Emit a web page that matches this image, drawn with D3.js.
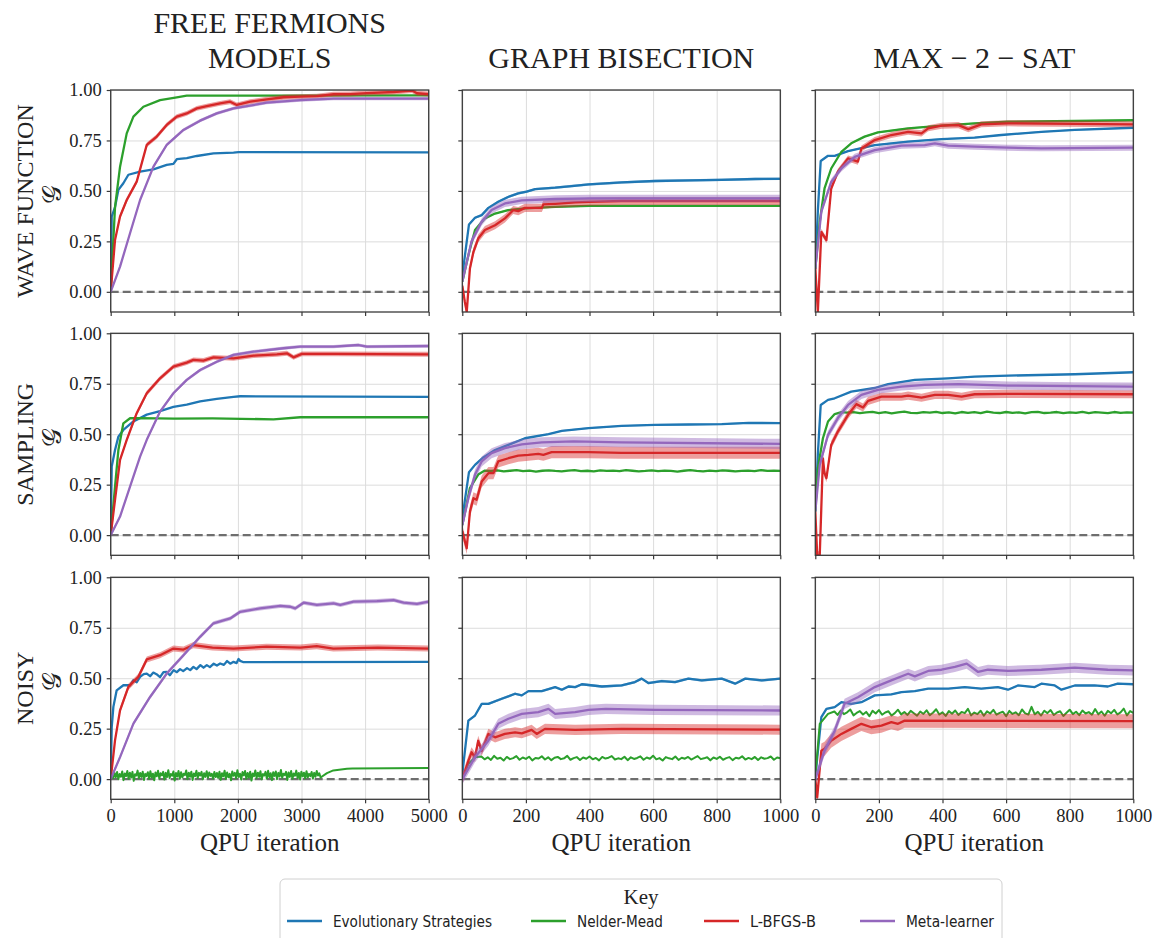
<!DOCTYPE html>
<html>
<head>
<meta charset="utf-8">
<script src="https://cdn.jsdelivr.net/npm/d3@7"></script>
<style>
body { margin: 0; background: #fff; }
svg text { font-family: "Liberation Serif", "DejaVu Serif", serif; fill: #222; }
</style>
</head>
<body>
<script>
// ---- labels ----
var colTitles = [["FREE FERMIONS", "MODELS"], ["GRAPH BISECTION"], ["MAX \u2212 2 \u2212 SAT"]];
var rowTitles = ["WAVE FUNCTION", "SAMPLING", "NOISY"];
var methods = ["Evolutionary Strategies", "Nelder-Mead", "L-BFGS-B", "Meta-learner"];
var colors = ["#1f77b4", "#2ca02c", "#d62728", "#9467bd"];
var xMax = [5000, 1000, 1000];
var xTicksFF = [0, 1000, 2000, 3000, 4000, 5000];
var xTicksQ = [0, 200, 400, 600, 800, 1000];
var yTicks = [0, 0.25, 0.5, 0.75, 1.0];

// ---- free fermions : wave function ----
var ffWaveES = [[0,0],[16,0.373],[68,0.42],[121,0.505],[199,0.538],[278,0.58],[462,0.596],[672,0.607],[881,0.629],[986,0.634],[1039,0.657],[1196,0.662],[1354,0.673],[1616,0.686],[1931,0.69],[2010,0.692],[5000,0.691]];
var ffWaveNM = [[0,0],[68,0.42],[147,0.62],[252,0.785],[357,0.868],[514,0.917],[776,0.95],[1039,0.964],[1196,0.972],[5000,0.973]];
var ffWaveLB = [[0,0],[68,0.257],[147,0.373],[252,0.455],[409,0.546],[567,0.728],[724,0.769],[881,0.827],[1039,0.868],[1196,0.884],[1354,0.909],[1511,0.92],[1721,0.934],[1878,0.942],[1983,0.926],[2193,0.942],[2455,0.954],[2718,0.964],[2980,0.967],[3242,0.97],[3504,0.979],[3766,0.98],[4029,0.985],[4449,0.99],[4738,0.997],[4816,0.984],[5000,0.98]];
var ffWaveML = [[0,0],[147,0.125],[304,0.29],[462,0.455],[672,0.62],[881,0.728],[1144,0.802],[1406,0.848],[1668,0.884],[1931,0.909],[2455,0.937],[2980,0.95],[3504,0.957],[5000,0.957]];
var ffWaveBand = [0, 0, 0.012, 0.008];

// ---- graph bisection : wave function ----
var gbWaveES = [[0,0.08],[21,0.334],[40,0.367],[61,0.38],[82,0.416],[113,0.446],[144,0.47],[176,0.488],[202,0.496],[229,0.509],[292,0.516],[344,0.524],[397,0.532],[501,0.542],[606,0.549],[711,0.552],[816,0.555],[921,0.559],[1000,0.56]];
var gbWaveNM = [[0,0.05],[19,0.18],[40,0.306],[71,0.364],[103,0.388],[144,0.405],[197,0.413],[292,0.421],[400,0.426],[1000,0.426]];
var gbWaveLB = [[0,0.03],[8,-0.05],[14,-0.1],[24,0.116],[35,0.198],[50,0.264],[71,0.306],[103,0.33],[134,0.364],[160,0.405],[176,0.4],[197,0.416],[250,0.416],[255,0.433],[292,0.436],[355,0.443],[397,0.446],[500,0.45],[1000,0.45]];
var gbWaveML = [[0,0.05],[29,0.25],[61,0.347],[92,0.405],[134,0.438],[187,0.453],[292,0.46],[400,0.463],[1000,0.463]];
var gbWaveBand = [0.006, 0.004, 0.02, 0.018];

// ---- max-2-sat : wave function ----
var msWaveES = [[0,0.115],[8,0.4],[17,0.648],[40,0.674],[61,0.674],[103,0.697],[187,0.727],[292,0.744],[397,0.757],[501,0.764],[585,0.777],[711,0.793],[816,0.802],[1000,0.813]];
var msWaveNM = [[0,0.115],[14,0.347],[29,0.512],[50,0.611],[82,0.694],[113,0.736],[155,0.769],[197,0.79],[292,0.81],[397,0.823],[501,0.835],[606,0.843],[1000,0.85]];
var msWaveLB = [[0,0.12],[8,-0.1],[19,0.297],[35,0.256],[50,0.512],[71,0.595],[103,0.661],[134,0.645],[145,0.71],[187,0.752],[239,0.777],[292,0.793],[334,0.785],[355,0.81],[397,0.823],[450,0.826],[481,0.806],[522,0.83],[606,0.835],[1000,0.83]];
var msWaveML = [[0,0.115],[19,0.397],[50,0.545],[82,0.611],[124,0.669],[187,0.702],[271,0.724],[344,0.727],[376,0.736],[418,0.724],[501,0.719],[606,0.714],[711,0.711],[1000,0.714]];
var msWaveBand = [0.004, 0.004, 0.015, 0.015];

// ---- free fermions : sampling ----
var ffSampES = [[0,0],[16,0.34],[68,0.422],[121,0.488],[199,0.521],[357,0.563],[567,0.597],[776,0.614],[986,0.635],[1196,0.647],[1406,0.663],[1668,0.675],[1931,0.685],[2036,0.688],[5000,0.685]];
var ffSampNM = [[0,0],[68,0.24],[121,0.422],[199,0.554],[304,0.579],[462,0.58],[1000,0.577],[1600,0.578],[2560,0.574],[2980,0.584],[5000,0.584]];
var ffSampLB = [[0,0],[68,0.175],[147,0.373],[252,0.472],[409,0.604],[567,0.703],[776,0.777],[986,0.835],[1196,0.855],[1301,0.868],[1458,0.865],[1616,0.881],[1931,0.876],[2246,0.889],[2613,0.896],[2771,0.901],[2875,0.881],[3006,0.898],[3504,0.898],[5000,0.896]];
var ffSampML = [[0,0],[147,0.092],[304,0.24],[462,0.389],[567,0.472],[776,0.612],[986,0.703],[1196,0.769],[1406,0.818],[1668,0.859],[1931,0.893],[2246,0.909],[2718,0.926],[2980,0.934],[3504,0.934],[3898,0.942],[4029,0.934],[5000,0.937]];
var ffSampBand = [0, 0, 0.012, 0.008];

// ---- graph bisection : sampling ----
var gbSampES = [[0,0.084],[21,0.312],[40,0.348],[66,0.385],[103,0.422],[145,0.447],[197,0.48],[271,0.5],[313,0.517],[397,0.53],[501,0.541],[606,0.546],[711,0.548],[816,0.55],[900,0.556],[1000,0.555]];
var gbSampNMHead = [[0,0.05],[24,0.233],[50,0.3],[71,0.32]];
var gbSampNMNoise = [0.318,0.321,0.316,0.319,0.322,0.317,0.320,0.315,0.319,0.321,0.318,0.316,0.320,0.322,0.317,0.319,0.316,0.321,0.318,0.320,0.317,0.322,0.319,0.316,0.318,0.321,0.317,0.320,0.318,0.315,0.319,0.322,0.318,0.316,0.320,0.317,0.321,0.319,0.316,0.318,0.320,0.317,0.322,0.318,0.319,0.318];
var gbSampLB = [[0,0.02],[8,-0.03],[14,-0.065],[24,0.117],[35,0.183],[45,0.175],[61,0.266],[82,0.307],[98,0.307],[113,0.365],[145,0.381],[176,0.394],[208,0.398],[239,0.403],[255,0.398],[281,0.411],[397,0.411],[500,0.408],[1000,0.408]];
var gbSampML = [[0,0.05],[19,0.183],[40,0.3],[61,0.365],[92,0.406],[134,0.431],[187,0.45],[250,0.46],[350,0.464],[500,0.46],[1000,0.452]];
var gbSampBand = [0.004, 0, 0.03, 0.025];

// ---- max-2-sat : sampling ----
var msSampES = [[0,0.117],[8,0.4],[17,0.645],[40,0.67],[61,0.678],[113,0.711],[187,0.729],[229,0.748],[313,0.769],[418,0.777],[501,0.785],[606,0.79],[816,0.797],[1000,0.807]];
var msSampNMHead = [[0,0.117],[8,0.33],[24,0.48],[40,0.563],[61,0.6],[82,0.609]];
var msSampNMNoise = [0.607,0.610,0.604,0.608,0.611,0.605,0.609,0.603,0.608,0.612,0.606,0.604,0.609,0.607,0.611,0.605,0.608,0.603,0.610,0.606,0.609,0.604,0.612,0.607,0.605,0.610,0.606,0.608,0.603,0.609,0.611,0.605,0.607,0.610,0.604,0.608,0.606,0.611,0.605,0.609,0.607,0.604,0.610,0.606,0.608,0.607];
var msSampLB = [[0,0.117],[6,-0.1],[14,-0.1],[24,0.38],[29,0.307],[35,0.282],[50,0.447],[71,0.513],[103,0.596],[129,0.649],[150,0.632],[166,0.665],[208,0.686],[271,0.686],[292,0.691],[334,0.681],[376,0.695],[418,0.695],[460,0.686],[501,0.698],[606,0.7],[1000,0.698]];
var msSampML = [[0,0.117],[14,0.348],[40,0.497],[71,0.58],[103,0.645],[145,0.695],[197,0.72],[271,0.736],[344,0.744],[450,0.748],[606,0.741],[816,0.738],[1000,0.736]];
var msSampBand = [0.003, 0, 0.02, 0.02];

// ---- free fermions : noisy ----
var ffNoisyES = [[0,0],[16,0.258],[42,0.358],[94,0.44],[199,0.465],[304,0.465],[357,0.49],[410,0.48],[462,0.507],[520,0.52],[567,0.523],[620,0.51],[670,0.528],[720,0.52],[776,0.505],[830,0.53],[881,0.531],[930,0.515],[990,0.54],[1040,0.53],[1091,0.545],[1140,0.535],[1200,0.55],[1250,0.54],[1301,0.556],[1350,0.545],[1410,0.565],[1460,0.552],[1511,0.565],[1560,0.555],[1620,0.572],[1670,0.563],[1721,0.573],[1780,0.566],[1830,0.585],[1880,0.572],[1931,0.581],[1980,0.575],[2010,0.595],[2036,0.586],[2080,0.58],[5000,0.581]];
var ffNoisyNMNoise = [0.000,0.020,0.005,0.030,0.010,0.035,0.000,0.025,0.012,0.038,-0.005,0.028,0.015,0.040,0.002,0.032,0.008,0.036,-0.008,0.024,0.018,0.042,0.004,0.030,0.011,0.037,-0.004,0.026,0.016,0.034,0.001,0.039,0.009,0.027,-0.006,0.033,0.014,0.041,0.003,0.029,0.019,0.036,-0.002,0.031,0.010,0.044,0.006,0.025,0.017,0.038,-0.007,0.030,0.013,0.040,0.002,0.034,0.008,0.027,0.020,0.043,0.000,0.032,0.012,0.037,-0.004,0.028,0.015,0.041,0.005,0.031,0.018,0.036,-0.001,0.029,0.011,0.039,0.007,0.033,0.016,0.026,0.003,0.035,0.010,0.030,
                      0.006,0.037,-0.003,0.029,0.014,0.042,0.001,0.033,0.009,0.026,-0.006,0.038,0.017,0.031,0.004,0.044,0.011,0.027,-0.002,0.035,0.019,0.040,0.002,0.030,0.008,0.037,-0.007,0.028,0.015,0.043,0.005,0.032,0.012,0.039,-0.001,0.025,0.018,0.036,0.003,0.041,0.010,0.029,-0.005,0.034,0.016,0.038,0.000,0.031,0.013,0.045,0.007,0.027,0.020,0.036,-0.004,0.033,0.011,0.040,0.002,0.028,0.017,0.042,0.006,0.030,-0.002,0.037,0.014,0.032,0.004,0.039,0.009,0.026,0.015,0.035,0.003,0.031,0.012,0.040,0.018,0.029,0.008];
var ffNoisyNMTail = [[3400,0.03],[3500,0.043],[3714,0.051],[3800,0.053],[5000,0.055]];
var ffNoisyLB = [[0,0],[68,0.192],[147,0.341],[278,0.457],[435,0.507],[567,0.593],[776,0.614],[986,0.647],[1144,0.642],[1301,0.664],[1600,0.652],[1931,0.647],[2450,0.656],[2980,0.652],[3240,0.659],[3500,0.647],[4200,0.652],[5000,0.647]];
var ffNoisyML = [[0,0],[147,0.109],[357,0.275],[619,0.407],[881,0.523],[1144,0.614],[1406,0.705],[1616,0.772],[1878,0.796],[2036,0.829],[2350,0.846],[2666,0.858],[2823,0.854],[2902,0.846],[3033,0.874],[3242,0.863],[3504,0.871],[3610,0.863],[3819,0.879],[4186,0.882],[4449,0.887],[4606,0.874],[4816,0.868],[5000,0.879]];
var ffNoisyBand = [0, 0, 0.015, 0.01];

// ---- graph bisection : noisy ----
var gbNoisyES = [[0,0.025],[19,0.29],[40,0.315],[61,0.373],[82,0.373],[124,0.398],[166,0.423],[187,0.415],[208,0.436],[250,0.436],[292,0.456],[313,0.443],[334,0.459],[355,0.456],[376,0.47],[439,0.459],[501,0.464],[543,0.481],[564,0.498],[585,0.476],[627,0.486],[669,0.481],[711,0.498],[753,0.489],[816,0.498],[858,0.473],[890,0.498],[942,0.489],[1000,0.498]];
var gbNoisyNMHead = [[0,0],[19,0.075],[40,0.108]];
var gbNoisyNMNoise = [0.112,0.098,0.108,0.095,0.115,0.101,0.106,0.092,0.110,0.099,0.104,0.114,0.096,0.107,0.100,0.111,0.093,0.105,0.102,0.113,0.097,0.108,0.094,0.106,0.110,0.099,0.103,0.115,0.096,0.104,0.109,0.095,0.107,0.101,0.112,0.098,0.105,0.093,0.110,0.102,0.106,0.114,0.097,0.103,0.099,0.111,0.094,0.108,0.100,0.105,0.113,0.096,0.107,0.101,0.116,0.098,0.104,0.092,0.109,0.103,0.099,0.112,0.095,0.106,0.101,0.110,0.097,0.105,0.114,0.099,0.103,0.108,0.093,0.107,0.100,0.111,0.096,0.104,0.109,0.094,0.106,0.102,0.113,0.097,0.105,0.099,0.110,0.095,0.108,0.101,0.104,0.112,0.096,0.107,0.103];
var gbNoisyLB = [[0,0],[19,0.09],[29,0.133],[40,0.108],[50,0.19],[61,0.14],[82,0.224],[103,0.207],[134,0.224],[166,0.232],[187,0.227],[218,0.244],[234,0.224],[260,0.249],[355,0.244],[501,0.249],[1000,0.245]];
var gbNoisyML = [[0,0],[40,0.108],[82,0.19],[113,0.274],[145,0.299],[187,0.323],[239,0.332],[271,0.348],[292,0.323],[355,0.332],[397,0.343],[451,0.348],[606,0.343],[1000,0.34]];
var gbNoisyBand = [0.006, 0, 0.025, 0.025];

// ---- max-2-sat : noisy ----
var msNoisyES = [[0,0.01],[19,0.307],[35,0.348],[61,0.357],[82,0.381],[113,0.373],[145,0.381],[187,0.415],[239,0.42],[271,0.431],[313,0.436],[355,0.448],[418,0.448],[470,0.456],[522,0.448],[574,0.456],[606,0.443],[637,0.464],[690,0.456],[711,0.473],[753,0.464],[774,0.443],[816,0.464],[878,0.464],[920,0.459],[951,0.473],[1000,0.47]];
var msNoisyNMHead = [[0,0.01],[14,0.274],[40,0.323]];
var msNoisyNMNoise = [0.335,0.318,0.340,0.322,0.331,0.345,0.316,0.328,0.337,0.320,0.333,0.312,0.339,0.325,0.342,0.319,0.330,0.336,0.315,0.327,0.344,0.321,0.332,0.318,0.338,0.326,0.314,0.335,0.323,0.341,0.317,0.329,0.346,0.320,0.331,0.313,0.337,0.324,0.340,0.318,0.333,0.327,0.348,0.316,0.330,0.322,0.339,0.314,0.336,0.325,0.343,0.319,0.328,0.334,0.312,0.338,0.323,0.331,0.317,0.345,0.326,0.320,0.358,0.321,0.333,0.315,0.339,0.327,0.342,0.318,0.330,0.336,0.313,0.329,0.344,0.322,0.334,0.317,0.340,0.325,0.332,0.319,0.347,0.321,0.335,0.314,0.338,0.326,0.343,0.320,0.331,0.349,0.316,0.337,0.328];
var msNoisyLB = [[0,0],[6,-0.09],[19,0.141],[29,0.15],[50,0.19],[82,0.224],[113,0.249],[145,0.274],[176,0.257],[208,0.265],[239,0.282],[260,0.274],[281,0.29],[1000,0.287]];
var msNoisyML = [[0,0],[29,0.141],[61,0.24],[92,0.373],[134,0.406],[187,0.456],[239,0.489],[292,0.522],[313,0.509],[355,0.536],[397,0.542],[439,0.556],[476,0.572],[512,0.531],[543,0.542],[606,0.536],[711,0.542],[816,0.552],[920,0.542],[1000,0.539]];
var msNoisyBand = [0.004, 0, 0.035, 0.025];

// spread a run of readings evenly over [x0, x1]
function spread(x0, x1, vals) {
    return vals.map(function(v, i) { return [x0 + i * (x1 - x0) / (vals.length - 1), v]; });
}

var panels = [
    {row: 0, col: 0, series: [ffWaveES, ffWaveNM, ffWaveLB, ffWaveML], band: ffWaveBand},
    {row: 0, col: 1, series: [gbWaveES, gbWaveNM, gbWaveLB, gbWaveML], band: gbWaveBand},
    {row: 0, col: 2, series: [msWaveES, msWaveNM, msWaveLB, msWaveML], band: msWaveBand},
    {row: 1, col: 0, series: [ffSampES, ffSampNM, ffSampLB, ffSampML], band: ffSampBand},
    {row: 1, col: 1, series: [gbSampES, gbSampNMHead.concat(spread(90, 1000, gbSampNMNoise)), gbSampLB, gbSampML], band: gbSampBand},
    {row: 1, col: 2, series: [msSampES, msSampNMHead.concat(spread(100, 1000, msSampNMNoise)), msSampLB, msSampML], band: msSampBand},
    {row: 2, col: 0, series: [ffNoisyES, spread(0, 3300, ffNoisyNMNoise).concat(ffNoisyNMTail), ffNoisyLB, ffNoisyML], band: ffNoisyBand},
    {row: 2, col: 1, series: [gbNoisyES, gbNoisyNMHead.concat(spread(60, 1000, gbNoisyNMNoise)), gbNoisyLB, gbNoisyML], band: gbNoisyBand},
    {row: 2, col: 2, series: [msNoisyES, msNoisyNMHead.concat(spread(60, 1000, msNoisyNMNoise)), msNoisyLB, msNoisyML], band: msNoisyBand}
];

// ---- layout ----
var W = 1153, H = 938;
var colLeft = [110.7, 462.3, 815.3];
var rowTop = [90, 333.3, 577.3];
var panelW = 318, panelH = 222;

var svg = d3.select("body").append("svg")
            .attr("width", W)
            .attr("height", H);

var yScale = d3.scaleLinear().domain([-0.1, 1.0]).range([panelH, 0]);

panels.forEach(function(p, pi) {
    var xScale = d3.scaleLinear().domain([0, xMax[p.col]]).range([0, panelW]);
    var xTicks = p.col == 0 ? xTicksFF : xTicksQ;

    var g = svg.append("g")
               .attr("transform", "translate(" + colLeft[p.col] + "," + rowTop[p.row] + ")");

    g.append("clipPath").attr("id", "clip" + pi)
     .append("rect").attr("width", panelW).attr("height", panelH);

    // grid
    var gx = g.append("g")
              .attr("transform", "translate(0," + panelH + ")")
              .call(d3.axisBottom(xScale).tickValues(xTicks).tickSize(-panelH).tickFormat(""));
    var gy = g.append("g")
              .call(d3.axisLeft(yScale).tickValues(yTicks).tickSize(-panelW).tickFormat(""));
    [gx, gy].forEach(function(a) {
        a.select(".domain").remove();
        a.selectAll("line").attr("stroke", "#dcdcdc").attr("stroke-width", 1);
    });

    var plot = g.append("g").attr("clip-path", "url(#clip" + pi + ")");

    // zero reference
    plot.append("line")
        .attr("x1", 0).attr("x2", panelW)
        .attr("y1", yScale(0)).attr("y2", yScale(0))
        .attr("stroke", "#6e6e6e")
        .attr("stroke-width", 2.2)
        .attr("stroke-dasharray", "8,4");

    var line = d3.line()
                 .x(function(d) { return xScale(d[0]); })
                 .y(function(d) { return yScale(d[1]); });

    p.series.forEach(function(s, si) {
        var bw = p.band[si];
        if (bw > 0) {
            var area = d3.area()
                         .x(function(d) { return xScale(d[0]); })
                         .y0(function(d) { return yScale(d[1] - bw); })
                         .y1(function(d) { return yScale(d[1] + bw); });
            plot.append("path")
                .attr("d", area(s))
                .attr("fill", colors[si])
                .attr("fill-opacity", 0.45);
        }
        plot.append("path")
            .attr("d", line(s))
            .attr("fill", "none")
            .attr("stroke", colors[si])
            .attr("stroke-width", si == 1 && p.row == 2 ? 2 : 2.3)
            .attr("stroke-linejoin", "round");
    });

    // frame
    g.append("rect")
     .attr("width", panelW).attr("height", panelH)
     .attr("fill", "none")
     .attr("stroke", "#3a3a3a")
     .attr("stroke-width", 1.3);

    // tick marks and labels
    var ax = g.append("g")
              .attr("transform", "translate(0," + panelH + ")")
              .call(d3.axisBottom(xScale).tickValues(xTicks).tickSize(4).tickPadding(6)
                      .tickFormat(p.row == 2 ? d3.format("d") : ""));
    var ay = g.append("g")
              .call(d3.axisLeft(yScale).tickValues(yTicks).tickSize(4).tickPadding(5)
                      .tickFormat(p.col == 0 ? d3.format(".2f") : ""));
    [ax, ay].forEach(function(a) {
        a.select(".domain").remove();
        a.selectAll("line").attr("stroke", "#3a3a3a").attr("stroke-width", 1.2);
        a.selectAll("text")
         .attr("fill", "#222")
         .style("font-family", "'Liberation Serif', serif")
         .style("font-size", "18.5px");
    });

    if (p.row == 2) {
        g.append("text")
         .attr("x", panelW / 2)
         .attr("y", panelH + 52)
         .attr("text-anchor", "middle")
         .style("font-size", "25px")
         .text("QPU iteration");
    }
});

// column titles
colTitles.forEach(function(lines, c) {
    var cx = colLeft[c] + panelW / 2;
    lines.forEach(function(t, i) {
        svg.append("text")
           .attr("x", cx)
           .attr("y", 68 - (lines.length - 1 - i) * 35)
           .attr("text-anchor", "middle")
           .style("font-size", "30px")
           .text(t);
    });
});

// row titles
rowTitles.forEach(function(t, r) {
    var cy = rowTop[r] + panelH / 2;
    svg.append("text")
       .attr("transform", "translate(33," + cy + ") rotate(-90)")
       .attr("text-anchor", "middle")
       .style("font-size", "24px")
       .text(t);
    svg.append("text")
       .attr("transform", "translate(61," + (cy - 7) + ") rotate(-90)")
       .attr("text-anchor", "middle")
       .style("font-size", "26px")
       .text("\uD835\uDCA2");
});

// legend
var legendX = [287, 531, 704, 860];
var legendTextW = [159, 86, 66, 88];
var leg = svg.append("g");
leg.append("rect")
   .attr("x", 280).attr("y", 879)
   .attr("width", 722).attr("height", 80)
   .attr("rx", 5)
   .attr("fill", "#fff")
   .attr("stroke", "#d0d0d0");
leg.append("text")
   .attr("x", 641).attr("y", 904)
   .attr("text-anchor", "middle")
   .style("font-size", "21px")
   .text("Key");
methods.forEach(function(m, i) {
    leg.append("line")
       .attr("x1", legendX[i]).attr("x2", legendX[i] + 35)
       .attr("y1", 921).attr("y2", 921)
       .attr("stroke", colors[i])
       .attr("stroke-width", 2.3);
    leg.append("text")
       .attr("x", legendX[i] + 46).attr("y", 927)
       .attr("textLength", legendTextW[i])
       .attr("lengthAdjust", "spacingAndGlyphs")
       .style("font-family", "'DejaVu Sans', sans-serif")
       .style("font-size", "16px")
       .text(m);
});
</script>
</body>
</html>
